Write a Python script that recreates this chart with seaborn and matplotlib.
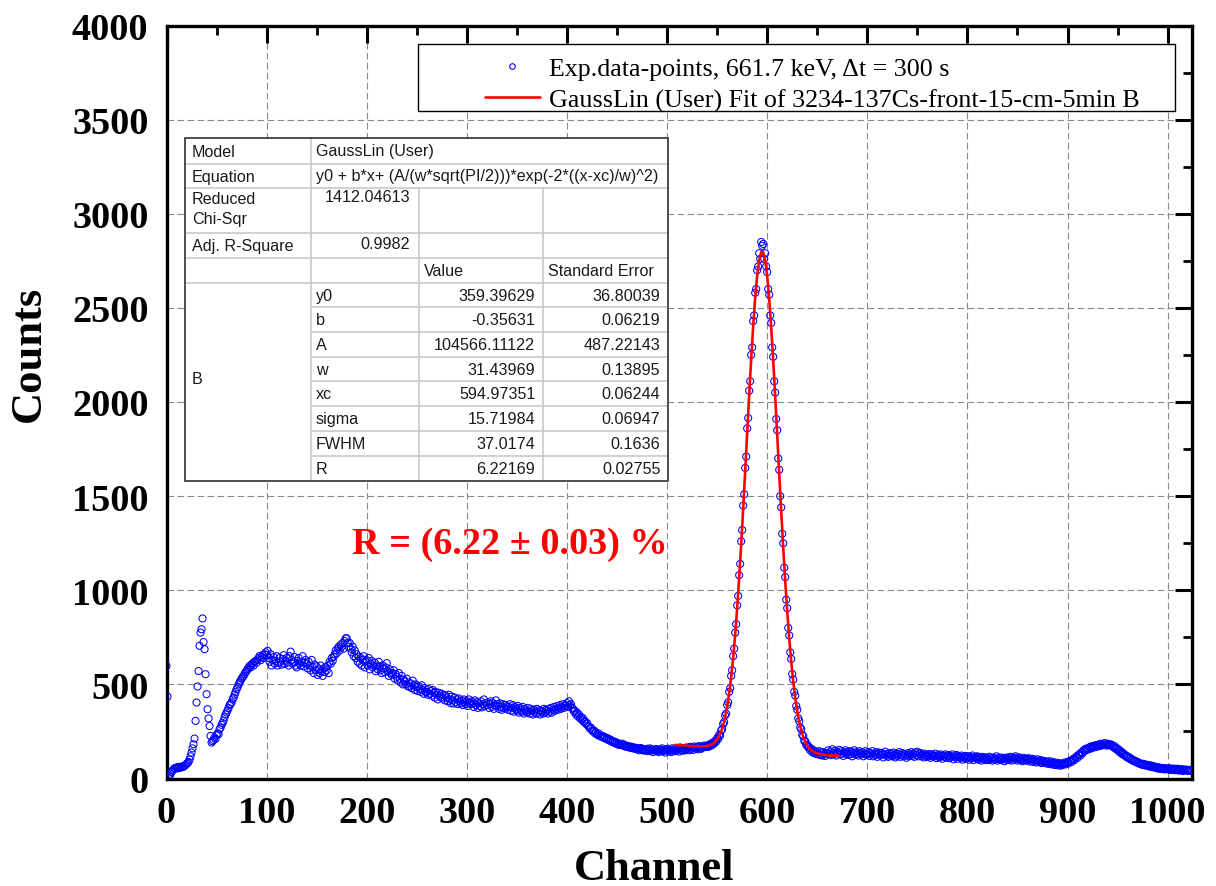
import numpy as np
import matplotlib
matplotlib.use("Agg")
import matplotlib.pyplot as plt
from matplotlib.transforms import Affine2D
from matplotlib.patches import Rectangle
from matplotlib.lines import Line2D
import seaborn as sns

# ---------------- data ----------------
counts = [
    598, 435, 3, 12, 25, 35, 42, 48, 55, 52, 58, 60, 55, 62, 58, 60, 65, 62, 68, 72,
    78, 82, 88, 100, 118, 138, 160, 182, 212, 306, 404, 489, 571, 705, 775, 793, 850, 725, 687, 554,
    448, 368, 319, 279, 226, 191, 198, 205, 218, 210, 230, 240, 235, 262, 270, 285, 295, 306, 325, 340,
    350, 362, 375, 390, 395, 404, 420, 430, 445, 460, 474, 485, 500, 510, 520, 530, 538, 545, 555, 565,
    572, 580, 588, 598, 590, 605, 612, 600, 620, 625, 615, 632, 640, 651, 628, 645, 655, 640, 660, 670,
    656, 678, 640, 620, 660, 600, 630, 645, 610, 625, 650, 600, 615, 640, 620, 605, 635, 655, 610, 625,
    640, 615, 600, 650, 674, 630, 610, 620, 645, 600, 590, 625, 640, 610, 600, 620, 650, 595, 615, 630,
    610, 585, 620, 600, 575, 630, 590, 560, 605, 575, 595, 550, 580, 560, 600, 570, 545, 585, 565, 590,
    575, 600, 560, 620, 610, 640, 625, 647, 660, 680, 665, 690, 700, 680, 710, 700, 720, 690, 730, 745,
    745, 720, 700, 720, 690, 670, 700, 650, 680, 640, 660, 620, 647, 610, 640, 600, 630, 650, 590, 620,
    629, 600, 640, 580, 610, 625, 590, 600, 615, 570, 600, 580, 620, 595, 575, 560, 600, 585, 565, 590,
    613, 570, 545, 580, 560, 550, 560, 575, 530, 555, 540, 520, 560, 530, 510, 545, 500, 525, 515, 500,
    530, 490, 510, 487, 505, 480, 520, 495, 470, 500, 485, 465, 490, 475, 460, 495, 470, 450, 480, 460,
    460, 445, 475, 450, 465, 440, 470, 455, 430, 460, 445, 420, 455, 440, 430, 450, 425, 443, 415, 440,
    430, 410, 445, 420, 400, 435, 415, 398, 430, 405, 420, 395, 425, 410, 398, 415, 390, 420, 405, 395,
    410, 385, 420, 400, 395, 410, 398, 380, 415, 390, 405, 375, 400, 385, 410, 378, 395, 420, 385, 400,
    390, 405, 375, 395, 410, 380, 400, 370, 390, 415, 385, 395, 370, 400, 380, 365, 395, 375, 390, 372,
    385, 365, 380, 395, 360, 375, 390, 355, 380, 370, 360, 385, 350, 375, 365, 355, 380, 345, 370, 360,
    350, 375, 355, 345, 370, 360, 340, 365, 355, 345, 370, 350, 363, 340, 360, 355, 345, 370, 350, 365,
    360, 345, 370, 355, 375, 350, 365, 380, 360, 370, 385, 365, 375, 390, 370, 380, 395, 375, 385, 389,
    400, 380, 410, 389, 395, 375, 370, 355, 360, 340, 350, 330, 340, 320, 327, 310, 320, 300, 305, 290,
    295, 280, 275, 265, 270, 256, 250, 255, 240, 245, 235, 230, 238, 225, 228, 220, 225, 215, 220, 210,
    215, 205, 210, 200, 205, 195, 198, 190, 195, 185, 190, 180, 185, 178, 182, 185, 175, 180, 170, 175,
    168, 172, 165, 170, 162, 168, 160, 165, 158, 163, 155, 160, 150, 158, 162, 152, 156, 148, 155, 150,
    158, 145, 152, 160, 148, 155, 140, 150, 149, 157, 145, 152, 140, 155, 148, 160, 145, 150, 138, 155,
    149, 158, 145, 152, 140, 160, 148, 155, 145, 162, 150, 158, 143, 165, 152, 160, 148, 158, 150, 165,
    155, 163, 150, 168, 158, 165, 152, 170, 160, 158, 168, 155, 172, 162, 158, 170, 165, 175, 168, 172,
    175, 168, 180, 172, 185, 178, 192, 186, 200, 196, 215, 210, 232, 228, 255, 262, 290, 300, 335, 345,
    390, 405, 460, 480, 545, 575, 650, 690, 775, 820, 920, 970, 1080, 1140, 1260, 1320, 1450, 1510, 1650, 1710,
    1860, 1915, 2060, 2110, 2250, 2290, 2430, 2460, 2580, 2600, 2700, 2720, 2790, 2760, 2850, 2830, 2840, 2760, 2790, 2720,
    2690, 2600, 2570, 2460, 2420, 2290, 2240, 2110, 2050, 1910, 1850, 1700, 1640, 1500, 1440, 1300, 1250, 1120, 1070, 950,
    905, 800, 760, 670, 635, 555, 525, 460, 440, 385, 365, 320, 305, 272, 262, 232, 225, 200, 198, 178,
    180, 165, 166, 150, 158, 140, 150, 135, 145, 130, 140, 128, 145, 125, 138, 122, 140, 130, 120, 135,
    135, 150, 128, 142, 125, 155, 138, 130, 148, 122, 140, 135, 152, 128, 145, 132, 120, 140, 150, 130,
    138, 125, 145, 130, 142, 118, 135, 150, 128, 140, 132, 122, 145, 135, 128, 140, 118, 132, 145, 125,
    130, 140, 120, 135, 128, 145, 118, 132, 125, 140, 115, 130, 138, 122, 135, 128, 112, 130, 142, 120,
    128, 115, 135, 122, 130, 118, 138, 125, 112, 132, 120, 128, 140, 115, 125, 135, 118, 130, 122, 110,
    125, 135, 118, 128, 140, 120, 132, 115, 138, 125, 142, 118, 130, 135, 120, 128, 112, 132, 122, 115,
    125, 118, 130, 110, 122, 128, 115, 120, 132, 108, 118, 125, 112, 128, 120, 105, 122, 115, 128, 110,
    118, 125, 108, 120, 115, 128, 102, 118, 112, 125, 105, 120, 115, 110, 122, 100, 115, 108, 120, 105,
    112, 118, 100, 115, 108, 122, 98, 110, 115, 105, 118, 100, 112, 108, 95, 115, 105, 110, 98, 112,
    105, 98, 115, 102, 108, 95, 112, 100, 105, 118, 95, 108, 102, 112, 98, 105, 110, 92, 108, 100,
    112, 98, 105, 115, 95, 108, 100, 110, 118, 102, 95, 108, 112, 98, 105, 92, 110, 100, 95, 105,
    98, 108, 90, 102, 95, 105, 88, 100, 95, 85, 102, 92, 88, 98, 82, 95, 90, 85, 92, 80,
    88, 78, 92, 82, 75, 88, 80, 72, 85, 78, 70, 82, 75, 68, 80, 72, 78, 85, 75, 82,
    88, 80, 92, 95, 88, 100, 105, 98, 112, 118, 110, 125, 130, 122, 140, 135, 150, 145, 158, 152,
    160, 155, 165, 170, 160, 172, 165, 175, 168, 178, 170, 180, 172, 185, 175, 182, 178, 188, 180, 175,
    185, 178, 182, 175, 180, 170, 165, 172, 158, 162, 150, 155, 140, 145, 132, 138, 125, 128, 118, 120,
    110, 115, 105, 108, 98, 100, 92, 95, 88, 90, 82, 85, 78, 80, 75, 72, 78, 70, 74, 68,
    72, 65, 70, 62, 68, 60, 65, 58, 62, 55, 60, 52, 58, 55, 50, 56, 52, 48, 55, 50,
    52, 48, 55, 45, 50, 47, 53, 44, 50, 46, 52, 42, 48, 45, 50, 40, 46, 43, 48, 42,
    45, 40, 46, 42,
]
channel = np.arange(len(counts))

fit_channel = list(range(508, 674, 2))
fit_counts = [
    178, 178, 177, 176, 176, 175, 174, 173, 173, 172, 171, 171, 170, 171, 171, 171,
    173, 175, 179, 185, 195, 208, 226, 250, 283, 327, 382, 452, 538, 641, 764, 905,
    1066, 1242, 1432, 1632, 1836, 2037, 2228, 2403, 2553, 2672, 2754, 2796, 2795, 2752, 2669, 2548,
    2396, 2221, 2028, 1825, 1620, 1419, 1227, 1049, 888, 745, 621, 516, 429, 357,
    300, 256, 221, 195, 175, 161, 151, 143, 138, 134, 131, 128, 127, 125, 124, 123,
    123, 122, 121, 121, 120,
]
fit_channel = fit_channel[:len(fit_counts)]

x_ticks = list(range(0, 1001, 100))
y_ticks = list(range(0, 4001, 500))

legend_labels = ["Exp.data-points, 661.7 keV, \u0394t = 300 s",
                 "GaussLin (User) Fit of 3234-137Cs-front-15-cm-5min B"]
annotation = "R = (6.22 \u00b1 0.03) %"

table_model = "GaussLin (User)"
table_equation = "y0 + b*x+ (A/(w*sqrt(PI/2)))*exp(-2*((x-xc)/w)^2)"
table_chi = "1412.04613"
table_r2 = "0.9982"
param_names = ["y0", "b", "A", "w", "xc", "sigma", "FWHM", "R"]
param_values = ["359.39629", "-0.35631", "104566.11122", "31.43969",
                "594.97351", "15.71984", "37.0174", "6.22169"]
param_errors = ["36.80039", "0.06219", "487.22143", "0.13895",
                "0.06244", "0.06947", "0.1636", "0.02755"]

# ---------------- style ----------------
sns.set_style("white")
plt.rcParams['font.family'] = ['Liberation Serif', 'DejaVu Serif']
plt.rcParams['text.color'] = 'black'
plt.rcParams['axes.labelcolor'] = 'black'
plt.rcParams['xtick.color'] = 'black'
plt.rcParams['ytick.color'] = 'black'

W, H = 1216, 887
fig = plt.figure(figsize=(W / 100, H / 100), dpi=100)
L, R, T, B = 166.5, 1191.7, 26.5, 779.5
ax = fig.add_axes([L / W, 1 - B / H, (R - L) / W, (B - T) / H])

# pixel transform (x from left, y from top)
px = Affine2D().scale(1.0 / W, -1.0 / H).translate(0, 1) + fig.transFigure

sns.scatterplot(x=channel, y=counts, ax=ax, s=26, marker='o', zorder=3,
                legend=False)
pts = ax.collections[-1]
pts.set_facecolor('none')
pts.set_edgecolor('#0000ff')
pts.set_linewidth(0.75)

sns.lineplot(x=fit_channel, y=fit_counts, ax=ax, color='#ff0000', lw=1.9,
             zorder=4, legend=False)

ax.set_xlim(0, 1024)
ax.set_ylim(0, 4000)
ax.set_xticks(x_ticks)
ax.set_yticks(y_ticks)
ax.set_xticks(list(range(50, 1024, 100)), minor=True)
ax.set_yticks(list(range(250, 4000, 500)), minor=True)

ax.grid(True, which='major', color='#8a8a8a', linestyle=(0, (6, 3)), lw=0.8, zorder=0)
ax.set_axisbelow(True)

for s in ax.spines.values():
    s.set_linewidth(2.4)
    s.set_color('black')
    s.set_visible(True)

ax.tick_params(which='major', direction='in', length=12, width=2.2,
               top=True, right=True, labelsize=27.5, pad=12, labelcolor='black')
ax.tick_params(axis='y', which='major', pad=13)
ax.tick_params(which='minor', direction='in', length=6.5, width=2.0,
               top=True, right=True)
for lab in ax.get_xticklabels() + ax.get_yticklabels():
    lab.set_fontweight('bold')

ax.set_xlabel("Channel", fontsize=32, fontweight='bold', color='black')
ax.xaxis.label.set_va('baseline')
ax.xaxis.set_label_coords((654 - L) / (R - L), (B - 880) / (B - T))
ax.set_ylabel("Counts", fontsize=32, fontweight='bold', color='black')
ax.yaxis.label.set_va('center')
ax.yaxis.label.set_ha('center')
ax.yaxis.set_label_coords((29 - L) / (R - L), (B - 354) / (B - T))

ax.text(185, 1200, annotation, color='#ff0000', fontsize=27.5, fontweight='bold',
        va='baseline', ha='left', zorder=6)

# ---------------- legend ----------------
frame = Rectangle((418, 45), 757, 67, transform=px, facecolor='white',
                  edgecolor='black', lw=1.0, zorder=5, clip_on=False)
ax.add_patch(frame)
h_pts = Line2D([], [], ls='none', marker='o', markersize=4, markerfacecolor='none',
               markeredgecolor='#0000ff', markeredgewidth=0.8)
h_fit = Line2D([], [], color='#ff0000', lw=1.9)
leg = ax.legend([h_pts, h_fit], legend_labels, loc='upper left',
                bbox_to_anchor=((485 - L) / (R - L), (B - 58) / (B - T)),
                frameon=False, borderaxespad=0, borderpad=0,
                handlelength=2.1, handletextpad=0.35, labelspacing=0.3,
                prop={'family': 'Liberation Serif', 'size': 18.7})
leg.set_zorder(6)

# ---------------- fit-result table ----------------
tx = [185, 310.7, 419.3, 543.3, 668.3]
ty = [139.3, 165, 189.3, 234.3, 259, 284, 308.3, 333.3, 358.3, 382.3,
      407.3, 431.7, 456.7, 481.7]
grid_c = '#c8c8c8'
txt_c = '#1a1a1a'
tfont = {'family': 'Liberation Sans', 'size': 11.6}

ax.add_patch(Rectangle((tx[0], ty[0]), tx[-1] - tx[0], ty[-1] - ty[0], transform=px,
                       facecolor='white', edgecolor='none', zorder=5, clip_on=False))

def hline(y, x0, x1):
    ax.add_line(Line2D([x0, x1], [y, y], transform=px, color=grid_c, lw=1.2,
                       zorder=6, clip_on=False))

def vline(x, y0, y1):
    ax.add_line(Line2D([x, x], [y0, y1], transform=px, color=grid_c, lw=1.2,
                       zorder=6, clip_on=False))

for y in ty[1:6]:
    hline(y, tx[0], tx[-1])
for y in ty[6:-1]:
    hline(y, tx[1], tx[-1])
vline(tx[1], ty[0], ty[-1])
vline(tx[2], ty[2], ty[-1])
vline(tx[3], ty[2], ty[-1])
ax.add_patch(Rectangle((tx[0], ty[0]), tx[-1] - tx[0], ty[-1] - ty[0], transform=px,
                       facecolor='none', edgecolor='#404040', lw=1.3, zorder=7,
                       clip_on=False))

def ttext(x, y, s, ha='left', va='center'):
    ax.text(x, y, s, transform=px, ha=ha, va=va, color=txt_c, zorder=8,
            fontdict=tfont, clip_on=False)

def mid(i):
    return 0.5 * (ty[i] + ty[i + 1])

ttext(tx[0] + 7, mid(0), "Model")
ttext(tx[1] + 5, mid(0) - 1, table_model)
ttext(tx[0] + 7, mid(1), "Equation")
ttext(tx[1] + 5, mid(1) - 1, table_equation)
ttext(tx[0] + 7, 200, "Reduced")
ttext(tx[0] + 7, 219.5, "Chi-Sqr")
ttext(tx[2] - 9, 198, table_chi, ha='right')
ttext(tx[0] + 7, mid(3), "Adj. R-Square")
ttext(tx[2] - 9, mid(3) - 2, table_r2, ha='right')
ttext(tx[2] + 5, mid(4), "Value")
ttext(tx[3] + 5, mid(4), "Standard Error")
ttext(tx[0] + 7, 380, "B")
for i, (n, v, e) in enumerate(zip(param_names, param_values, param_errors)):
    r = 5 + i
    ttext(tx[1] + 5, mid(r), n)
    ttext(tx[3] - 8, mid(r), v, ha='right')
    ttext(tx[4] - 8, mid(r), e, ha='right')

fig.savefig("out.png", dpi=100)
